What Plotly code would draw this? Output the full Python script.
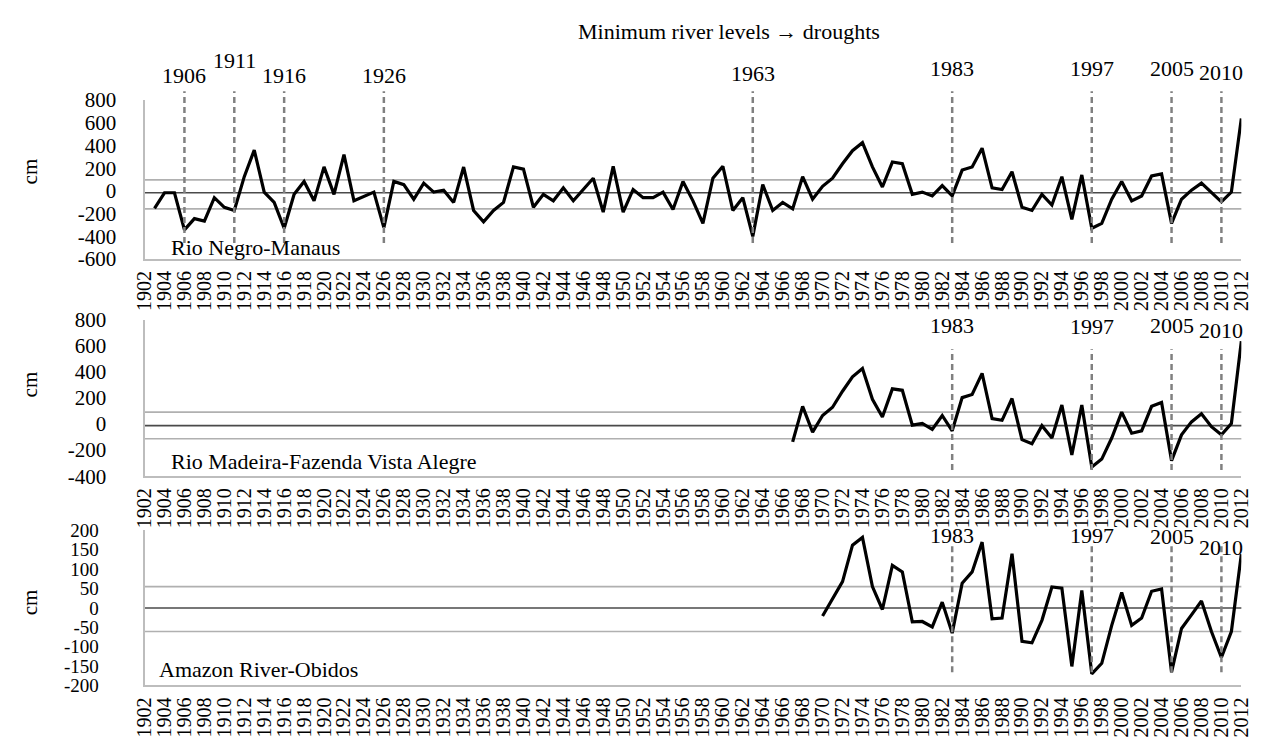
import plotly.graph_objects as go

# ---------------- data ----------------
negro_years = list(range(1903, 2013))
negro_cm = [
    -154, -17, -17, -344, -245, -267, -60, -145, -173, 125,      # 1903-1912
    359, -11, -102, -330, -31, 83, -88, 211, -31, 319,            # 1913-1922
    -88, -50, -11, -324, 83, 55, -74, 68, -11, 6,                 # 1923-1932
    -102, 210, -173, -273, -173, -102, 211, 191, -145, -31,       # 1933-1942
    -88, 26, -88, 12, 111, -188, 217, -188, 12, -60,              # 1943-1952
    -60, -11, -165, 83, -88, -287, 111, 217, -173, -60,           # 1953-1962
    -401, 55, -173, -102, -159, 125, -74, 40, 111, 239,           # 1963-1972
    354, 425, 211, 34, 254, 239, -31, -11, -45, 46,               # 1973-1982
    -45, 183, 211, 376, 26, 12, 168, -145, -173, -31,             # 1983-1992
    -125, 125, -252, 140, -330, -287, -74, 83, -88, -45,          # 1993-2002
    131, 149, -287, -74, 6, 68, -17, -97, -11, 638,               # 2003-2012
]

madeira_years = list(range(1967, 2013))
madeira_cm = [
    -137, 135, -63, 65, 128, 251, 362, 425, 189, 53,              # 1967-1976
    269, 258, -9, 4, -41, 65, -53, 202, 226, 388,                 # 1977-1986
    41, 28, 195, -120, -152, -13, -108, 145, -238, 145,           # 1987-1996
    -330, -269, -108, 91, -71, -53, 135, 165, -281, -83,          # 1997-2006
    16, 78, -21, -83, 4, 635,                                     # 2007-2012
]

obidos_years = list(range(1970, 2013))
obidos_cm = [
    -21, 22, 68, 162, 182, 55, -4, 110, 93, -36,                  # 1970-1979
    -35, -49, 15, -65, 64, 93, 170, -28, -26, 140,                # 1980-1989
    -86, -90, -32, 54, 51, -151, 45, -170, -143, -45,             # 1990-1999
    40, -45, -26, 43, 49, -166, -53, -18, 18, -61,                # 2000-2009
    -128, -61, 139,                                               # 2010-2012
]

# reference levels drawn across each panel (upper band, mean, lower band)
negro_levels = [97, -17, -159]
madeira_levels = [91, -13, -113]
obidos_levels = [55, 0, -61]

drought_years_top = [1906, 1911, 1916, 1926, 1963, 1983, 1997, 2005, 2010]
drought_years_low = [1983, 1997, 2005, 2010]

tick_years = list(range(1902, 2013, 2))
tick_labels = [str(y) for y in tick_years]

negro_ticks = [800, 600, 400, 200, 0, -200, -400, -600]
madeira_ticks = [800, 600, 400, 200, 0, -200, -400]
obidos_ticks = [200, 150, 100, 50, 0, -50, -100, -150, -200]

panel_names = ["Rio Negro-Manaus", "Rio Madeira-Fazenda Vista Alegre", "Amazon River-Obidos"]
title_text = "Minimum river levels \u2192 droughts"

# ---------------- figure ----------------
W, H = 1271, 755
SERIF = "Liberation Serif"
AXIS_GREY = "#bdbdbd"

fig = go.Figure()
for xs, ys, xa, ya in [(negro_years, negro_cm, "x", "y"),
                       (madeira_years, madeira_cm, "x2", "y2"),
                       (obidos_years, obidos_cm, "x3", "y3")]:
    fig.add_trace(go.Scatter(x=xs, y=ys, mode="lines", xaxis=xa, yaxis=ya,
                             line=dict(color="black", width=3.2),
                             hoverinfo="skip", showlegend=False))

x_dom = [135 / W, 1252 / W]
panels = [
    # (y-axis name, domain in px top,bottom, range, ticks, standoff, font size)
    ("y", (91, 255), [-600, 800], negro_ticks, 22, 21),
    ("y2", (317.7, 479.4), [-400, 800], madeira_ticks, 32, 21),
    ("y3", (535.5, 695.5), [-200, 200], obidos_ticks, 40, 19),
]

layout = dict(width=W, height=H, margin=dict(l=0, r=0, t=0, b=0),
              paper_bgcolor="white", plot_bgcolor="white", showlegend=False,
              font=dict(family=SERIF, color="black"))

for i, (yname, (ptop, pbot), yr, yt, stand, fsz) in enumerate(panels):
    suffix = "" if i == 0 else str(i + 1)
    layout["xaxis" + suffix] = dict(
        domain=x_dom, range=[1902, 2012], anchor=yname,
        tickmode="array", tickvals=tick_years, ticktext=tick_labels,
        tickangle=-90, tickfont=dict(family=SERIF, size=20, color="black"),
        showline=True, linecolor=AXIS_GREY, linewidth=2,
        showgrid=False, zeroline=False, ticks="", ticklabelstandoff=2)
    layout["yaxis" + suffix] = dict(
        domain=[1 - pbot / H, 1 - ptop / H], range=yr, anchor="x" + suffix,
        tickmode="array", tickvals=yt, ticktext=[str(v) for v in yt],
        tickfont=dict(family=SERIF, size=fsz, color="black"),
        showline=True, linecolor=AXIS_GREY, linewidth=2,
        showgrid=False, zeroline=False, ticks="", ticklabelstandoff=stand)

fig.update_layout(**layout)

shapes = []
annotations = []

# horizontal reference levels
for i, levels in enumerate([negro_levels, madeira_levels, obidos_levels]):
    suffix = "" if i == 0 else str(i + 1)
    for j, lv in enumerate(levels):
        shapes.append(dict(type="line", xref="x" + suffix + " domain", yref="y" + suffix,
                           x0=0, x1=1, y0=lv, y1=lv,
                           line=dict(color="#4a4a4a" if j == 1 else "#b0b0b0", width=1.6),
                           layer="below"))

# drought markers (dashed verticals + year labels)
marker_cfg = [
    ("", drought_years_top, (1.055, 0.10)),
    ("2", drought_years_low, (0.81, 0.04)),
    ("3", drought_years_low, (0.91, 0.085)),
]
label_y = {
    "": {1906: 1.152, 1911: 1.25, 1916: 1.152, 1926: 1.152, 1963: 1.165,
         1983: 1.20, 1997: 1.20, 2005: 1.20, 2010: 1.175},
    "2": {1983: 0.965, 1997: 0.958, 2005: 0.965, 2010: 0.93},
    "3": {1983: 0.9675, 1997: 0.9675, 2005: 0.962, 2010: 0.8925},
}
for suffix, yrs, (ytop, ybot) in marker_cfg:
    for yr in yrs:
        shapes.append(dict(type="line", xref="x" + suffix, yref="y" + suffix + " domain",
                           x0=yr, x1=yr, y0=ybot, y1=ytop,
                           line=dict(color="#808080", width=2.5, dash="6px,4px")))
        annotations.append(dict(x=yr, y=label_y[suffix][yr], xref="x" + suffix,
                                yref="y" + suffix + " domain", text=str(yr),
                                showarrow=False, font=dict(family=SERIF, size=22, color="black"),
                                xanchor="center", yanchor="middle"))

# panel names
for name, suffix, ypos in zip(panel_names, ["", "2", "3"], [0.071, 0.095, 0.103]):
    annotations.append(dict(x=160 / W if suffix != "3" else 148 / W, y=ypos,
                            xref="paper", yref="y" + suffix + " domain", text=name,
                            showarrow=False, xanchor="left", yanchor="middle",
                            font=dict(family=SERIF, size=22, color="black")))

# "cm" axis titles
for ypx in [165, 385, 610]:
    annotations.append(dict(x=18 / W, y=1 - ypx / H, xref="paper", yref="paper", text="cm",
                            textangle=-90, showarrow=False, xanchor="center", yanchor="middle",
                            font=dict(family=SERIF, size=21, color="black")))

# title
annotations.append(dict(x=730 / W, y=1 - 20 / H, xref="paper", yref="paper", text=title_text,
                        showarrow=False, xanchor="center", yanchor="middle",
                        font=dict(family=SERIF, size=22, color="black")))

fig.update_layout(shapes=shapes, annotations=annotations)
fig.write_html("out.html", config={"displayModeBar": False},
               post_script="document.body.style.margin='0';document.body.style.overflow='hidden';")
